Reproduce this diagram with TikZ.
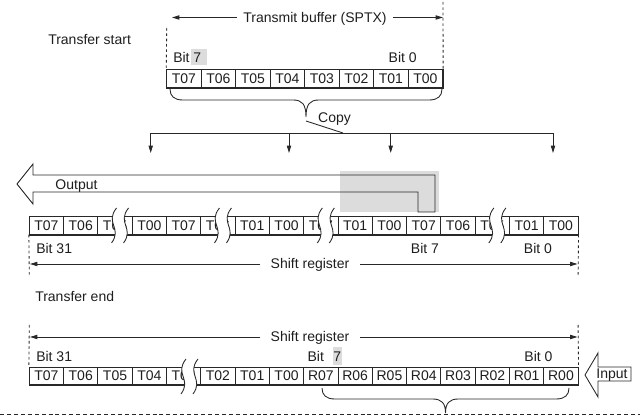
\documentclass[tikz,border=0pt]{standalone}
\usepackage{fontspec}
\setmainfont{Liberation Sans}
\usepackage{tikz}
\usetikzlibrary{positioning,arrows.meta,calc}
\definecolor{lncol}{RGB}{40,40,40}
\definecolor{txcol}{RGB}{30,30,30}
\definecolor{hlcol}{RGB}{220,220,220}
\newcommand\fs{\fontsize{10.5}{12}\selectfont}
\newcommand\regbreak[3]{%
  \fill[white] (#1+3,#2) .. controls (#1-9,#2+15) and (#1+9,#3-15) .. (#1-2,#3)
    -- (#1+10,#3) .. controls (#1+21,#3-15) and (#1+3,#2+15) .. (#1+15,#2) -- cycle;
  \draw[ln] (#1+3,#2) .. controls (#1-9,#2+15) and (#1+9,#3-15) .. (#1-2,#3);
  \draw[ln] (#1+15,#2) .. controls (#1+3,#2+15) and (#1+21,#3-15) .. (#1+10,#3);}
\newcommand\regbrace[4]{%
  \draw[ln] (#1,#3) .. controls (#1,#3+7) and (#1+4,#3+11) .. (#1+13,#3+11)
    -- ({(#1+#2)/2-13},#3+11) .. controls ({(#1+#2)/2-4},#3+11) and ({(#1+#2)/2},#3+15) .. ({(#1+#2)/2},#4)
    .. controls ({(#1+#2)/2},#3+15) and ({(#1+#2)/2+4},#3+11) .. ({(#1+#2)/2+13},#3+11)
    -- (#2-13,#3+11) .. controls (#2-4,#3+11) and (#2,#3+7) .. (#2,#3);}

\begin{document}
\begin{tikzpicture}[x=0.75pt, y=-0.75pt,
  ln/.style={draw=lncol, line width=0.65pt},
  arr/.style={ln, -{Triangle[length=5.5pt, width=3.2pt]}},
  dsh/.style={ln, dash pattern=on 2pt off 2pt},
  cell/.style={rectangle, draw=lncol, line width=0.65pt, minimum width=#1, minimum height=13.2pt,
               inner sep=0pt, font=\fs, text=txcol, text height=7.5pt, text depth=0pt},
  lbl/.style={font=\fs, text=txcol, inner sep=0pt, text height=7.5pt, text depth=0pt},
  thk/.style={draw=lncol, line width=1.4pt}
]
\useasboundingbox (0,0) rectangle (640,416);

% transfer start
\node[lbl] (sptx) at (315,17.5) {Transmit buffer (SPTX)};
\coordinate (sptxl) at (172,17.5);
\coordinate (sptxr) at (443,17.5);
\draw[arr] ([xshift=-4.5pt]sptx.west) -- (sptxl);
\draw[arr] ([xshift=4.5pt]sptx.east) -- (sptxr);
\node[lbl, anchor=west] (tstart) at (48,40) {Transfer start};

\fill[hlcol] (190.7,49) rectangle (207,65);
\node[lbl, anchor=west] (tbit7) at (173,58) {Bit 7};
\node[lbl, anchor=east] (tbit0) at (417,58) {Bit 0};

\foreach \t [count=\i] in {T07,T06,T05,T04,T03,T02,T01,T00}
  \node[cell=25.875pt] (tx\i) at ({166.7+34.5*(\i-0.5)},78.5) {\t};
\draw[thk] (tx1.south west) -- (tx8.south east) -- (tx8.north east);
\coordinate (txdl) at (166.7,28);
\coordinate (txdr) at (443,2);
\draw[dsh] (txdl) -- (tx1.north west);
\draw[dsh] (txdr) -- (tx8.north east);

\regbrace{170}{442}{89}{117}
\node[lbl] (copy) at (334.5,118) {Copy};
\coordinate (ctip) at (306,121);
\coordinate (cbus) at (343,133);
\draw[ln] (ctip) -- (cbus);
\foreach \x [count=\i] in {150.7,289,390.7,553} {
  \coordinate (b\i) at (\x,133);
  \coordinate (d\i) at (\x,153);
}
\draw[ln] (b1) -- (b4);
\foreach \i in {1,...,4}
  \draw[arr] (b\i) -- (d\i);

% shift register during transfer
\fill[hlcol] (340,171) rectangle (439,212);
\draw[ln] (17,184) -- (33,164) -- (33,175) -- (435,175) -- (435,212) -- (418,212)
  -- (418,192) -- (33,192) -- (33,204) -- cycle;
\node[lbl] (out) at (76.5,184.5) {Output};

\foreach \t [count=\i] in {T07,T06,T05,T00,T07,T06,T01,T00,T07,T01,T00,T07,T06,T05,T01,T00}
  \node[cell=25.725pt] (m\i) at ({29.3+34.3*(\i-0.5)},225.5) {\t};
\draw[thk] (m1.south west) -- (m16.south east) -- (m16.north east);
\foreach \c in {3,6,9,14} {
  \pgfmathsetmacro\bx{29.3+34.3*(\c-0.5)-1.5}
  \regbreak{\bx}{208}{243}
}
\node[lbl, anchor=west] (mbit31) at (36,248.5) {Bit 31};
\node[lbl] (mbit7) at (425,248.5) {Bit 7};
\node[lbl] (mbit0) at (538,248.5) {Bit 0};

\node[lbl] (msr) at (310,264) {Shift register};
\coordinate (msrl) at (30,264);
\coordinate (msrr) at (577.5,264);
\draw[arr] ([xshift=-7.5pt]msr.west) -- (msrl);
\draw[arr] ([xshift=8pt]msr.east) -- (msrr);
\coordinate (mdl) at (29.3,277);
\coordinate (mdr) at (578.1,277);
\draw[dsh] (m1.south west) -- (mdl);
\draw[dsh] (m16.south east) -- (mdr);

% transfer end
\node[lbl, anchor=west] (tend) at (35,297) {Transfer end};
\node[lbl] (esr) at (310,337) {Shift register};
\coordinate (esrl) at (30,337);
\coordinate (esrr) at (577.5,337);
\draw[arr] ([xshift=-7.5pt]esr.west) -- (esrl);
\draw[arr] ([xshift=8pt]esr.east) -- (esrr);

\node[lbl, anchor=west] (ebit31) at (36,357) {Bit 31};
\fill[hlcol] (332.7,347.5) rectangle (341.8,365.5);
\node[lbl, anchor=west] (ebit) at (307.3,357) {Bit};
\node[lbl] (ebit7) at (337.3,357) {7};
\node[lbl] (ebit0) at (538.5,357) {Bit 0};

\foreach \t [count=\i] in {T07,T06,T05,T04,T03,T02,T01,T00,R07,R06,R05,R04,R03,R02,R01,R00}
  \node[cell=25.725pt] (e\i) at ({29.3+34.3*(\i-0.5)},376) {\t};
\draw[thk] (e1.south west) -- (e16.south east) -- (e16.north east);
\regbreak{183}{359}{394}
\coordinate (edl) at (29.3,325);
\coordinate (edr) at (578.1,325);
\draw[dsh] (edl) -- (e1.north west);
\draw[dsh] (edr) -- (e16.north east);

\draw[ln, fill=white] (585,375) -- (598,353) -- (598,367) -- (631,367) -- (631,381)
  -- (598,381) -- (598,397) -- cycle;
\node[lbl] (inp) at (612,373.5) {Input};

\regbrace{322}{569}{388}{413}
\draw[ln, dash pattern=on 3pt off 2.2pt] (0,414.5) -- (640,414.5);

\end{tikzpicture}
\end{document}
